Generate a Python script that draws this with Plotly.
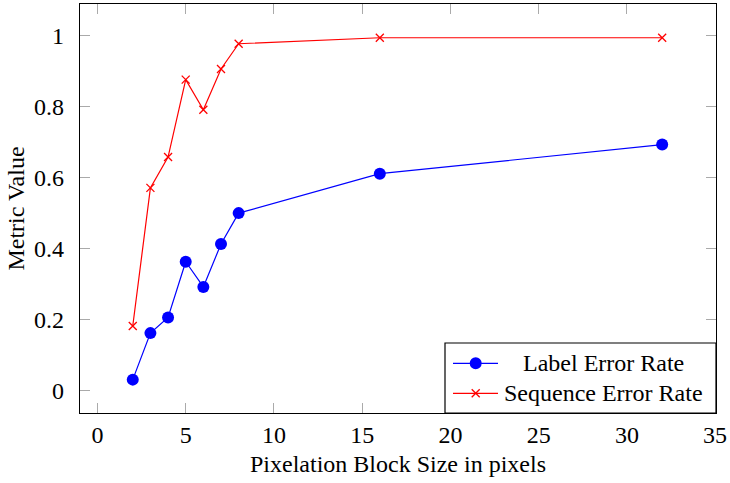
import plotly.graph_objects as go

block_sizes = [2, 3, 4, 5, 6, 7, 8, 16, 32]
label_error = [0.031, 0.162, 0.206, 0.363, 0.292, 0.413, 0.500, 0.611, 0.693]
sequence_error = [0.182, 0.571, 0.658, 0.876, 0.791, 0.906, 0.977, 0.994, 0.994]
x_ticks = [0, 5, 10, 15, 20, 25, 30, 35]
y_ticks = [0, 0.2, 0.4, 0.6, 0.8, 1]
y_tick_text = ["0", "0.2", "0.4", "0.6", "0.8", "1"]
series_names = ["Label Error Rate", "Sequence Error Rate"]

FONT = "Liberation Serif, Times New Roman, serif"
FS = 24
BLUE = "#0000ff"
RED = "#ff0000"

fig = go.Figure()
fig.add_trace(go.Scatter(
    x=block_sizes, y=label_error, mode="lines+markers", name=series_names[0],
    line=dict(color=BLUE, width=1.2),
    marker=dict(symbol="circle", size=12, color=BLUE, line=dict(width=0)),
    showlegend=False,
))
fig.add_trace(go.Scatter(
    x=block_sizes, y=sequence_error, mode="lines+markers", name=series_names[1],
    line=dict(color=RED, width=1.2),
    marker=dict(symbol="x-thin", size=8, color=RED, line=dict(width=1.3, color=RED)),
    showlegend=False,
))

axis_common = dict(
    showline=True, linecolor="#000000", linewidth=1.2, mirror="ticks",
    ticks="inside", ticklen=10, tickwidth=1.2, tickcolor="#aaaaaa",
    showgrid=False, zeroline=False,
    tickfont=dict(family=FONT, size=FS, color="#000000"),
)

fig.update_xaxes(
    range=[-0.99, 35.05], tickvals=x_ticks, ticktext=[str(v) for v in x_ticks],
    title=dict(text="Pixelation Block Size in pixels", font=dict(family=FONT, size=FS, color="#000"), standoff=8),
    ticklabelstandoff=0,
    **axis_common,
)
fig.update_yaxes(
    range=[-0.063, 1.089], tickvals=y_ticks, ticktext=y_tick_text,
    title=dict(text="Metric Value", font=dict(family=FONT, size=FS, color="#000"), standoff=2),
    ticklabelstandoff=10,
    **axis_common,
)

# manual legend (pgfplots style, centered text)
L, R, T, B = 80, 716, 4, 413
W, H = R - L, B - T
px = lambda x: (x - L) / W
py = lambda y: (B - y) / H

shapes = [
    dict(type="rect", xref="paper", yref="paper", x0=px(445), x1=1, y0=0, y1=py(343),
         line=dict(color="#000", width=1.2), fillcolor="white", layer="above"),
]
rows = [363.3, 393.3]
for i, (yy, col) in enumerate(zip(rows, [BLUE, RED])):
    shapes.append(dict(type="line", xref="paper", yref="paper", x0=px(453), x1=px(498),
                       y0=py(yy), y1=py(yy), line=dict(color=col, width=1.2), layer="above"))
cx = px(475.7)
shapes.append(dict(type="circle", xref="paper", yref="paper", xsizemode="pixel", ysizemode="pixel",
                   xanchor=cx, yanchor=py(rows[0]), x0=-6, x1=6, y0=-6, y1=6,
                   fillcolor=BLUE, line=dict(width=0), layer="above"))
for sgn in (1, -1):
    shapes.append(dict(type="line", xref="paper", yref="paper", xsizemode="pixel", ysizemode="pixel",
                       xanchor=cx, yanchor=py(rows[1]), x0=-4, x1=4, y0=-4 * sgn, y1=4 * sgn,
                       line=dict(color=RED, width=1.3), layer="above"))

annotations = []
for yy, name in zip(rows, series_names):
    annotations.append(dict(xref="paper", yref="paper", x=px(603), y=py(yy), text=name,
                            showarrow=False, xanchor="center", yanchor="middle",
                            font=dict(family=FONT, size=FS, color="#000")))

fig.update_layout(
    width=730, height=483,
    margin=dict(l=L, r=730 - R, t=T, b=483 - B),
    paper_bgcolor="white", plot_bgcolor="white",
    font=dict(family=FONT, size=FS, color="#000"),
    shapes=shapes, annotations=annotations,
    showlegend=False,
)

fig.write_html(
    "out.html",
    config={"displayModeBar": False},
    post_script="document.body.style.margin='0';document.body.style.overflow='hidden';",
)
